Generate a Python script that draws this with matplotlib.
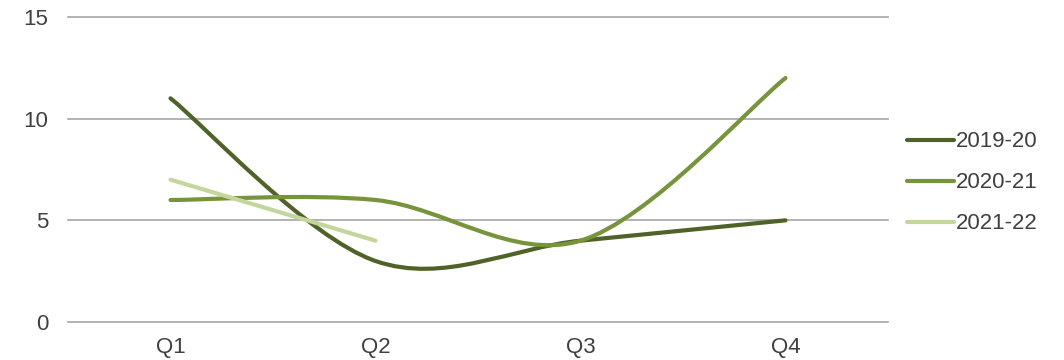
import matplotlib
matplotlib.use("Agg")
import matplotlib.pyplot as plt
from matplotlib.path import Path
from matplotlib.patches import PathPatch
from matplotlib.lines import Line2D

plt.rcParams['font.family'] = ['Liberation Sans', 'DejaVu Sans']

quarters = ["Q1", "Q2", "Q3", "Q4"]
series_names = ["2019-20", "2020-21", "2021-22"]
values_2019_20 = [11, 3, 4, 5]
values_2020_21 = [6, 6, 4, 12]
values_2021_22 = [7, 4]
colors = ["#4F6228", "#77933C", "#C3D69B"]
y_ticks = [0, 5, 10, 15]


def smooth_path(xs, ys):
    """Bezier path through the points with Catmull-Rom style tangents."""
    pts = list(zip(xs, ys))
    n = len(pts)
    verts = [pts[0]]
    codes = [Path.MOVETO]
    for i in range(n - 1):
        p0 = pts[i - 1] if i > 0 else pts[i]
        p1 = pts[i]
        p2 = pts[i + 1]
        p3 = pts[i + 2] if i + 2 < n else pts[i + 1]
        c1 = (p1[0] + (p2[0] - p0[0]) / 6, p1[1] + (p2[1] - p0[1]) / 6)
        c2 = (p2[0] - (p3[0] - p1[0]) / 6, p2[1] - (p3[1] - p1[1]) / 6)
        verts += [c1, c2, p2]
        codes += [Path.CURVE4] * 3
    return Path(verts, codes)


fig = plt.figure(figsize=(10.64, 3.6), dpi=100)
ax = fig.add_axes([68 / 1064, 38 / 360, 820 / 1064, 305 / 360])

all_series = [values_2019_20, values_2020_21, values_2021_22]
for vals, color in zip(all_series, colors):
    xs = list(range(len(vals)))
    patch = PathPatch(smooth_path(xs, vals), facecolor="none", edgecolor=color,
                      lw=3, capstyle="round", joinstyle="round", zorder=3)
    ax.add_patch(patch)

ax.set_xlim(-0.5, 3.5)
ax.set_ylim(0, 15)
ax.set_yticks(y_ticks)
ax.set_xticks(range(len(quarters)))
ax.set_xticklabels(quarters)
ax.yaxis.grid(True, color="#A6A6A6", lw=1.2)
for gl in ax.get_ygridlines():
    gl.set_clip_on(False)
ax.set_axisbelow(True)
for s in ax.spines.values():
    s.set_visible(False)
ax.tick_params(axis="both", length=0, labelsize=16, labelcolor="#404040")
ax.tick_params(axis="y", pad=14)
ax.tick_params(axis="x", pad=11)

handles = [Line2D([0], [0], color=c, lw=3, solid_capstyle="round") for c in colors]
leg = fig.legend(handles, series_names, loc="center left",
                 bbox_to_anchor=(907 / 1064, 0.492), borderaxespad=0, borderpad=0,
                 frameon=False, fontsize=16, handlelength=2.1, handletextpad=0.1,
                 labelspacing=0.9, labelcolor="#404040")

fig.savefig("out.png", dpi=100)
